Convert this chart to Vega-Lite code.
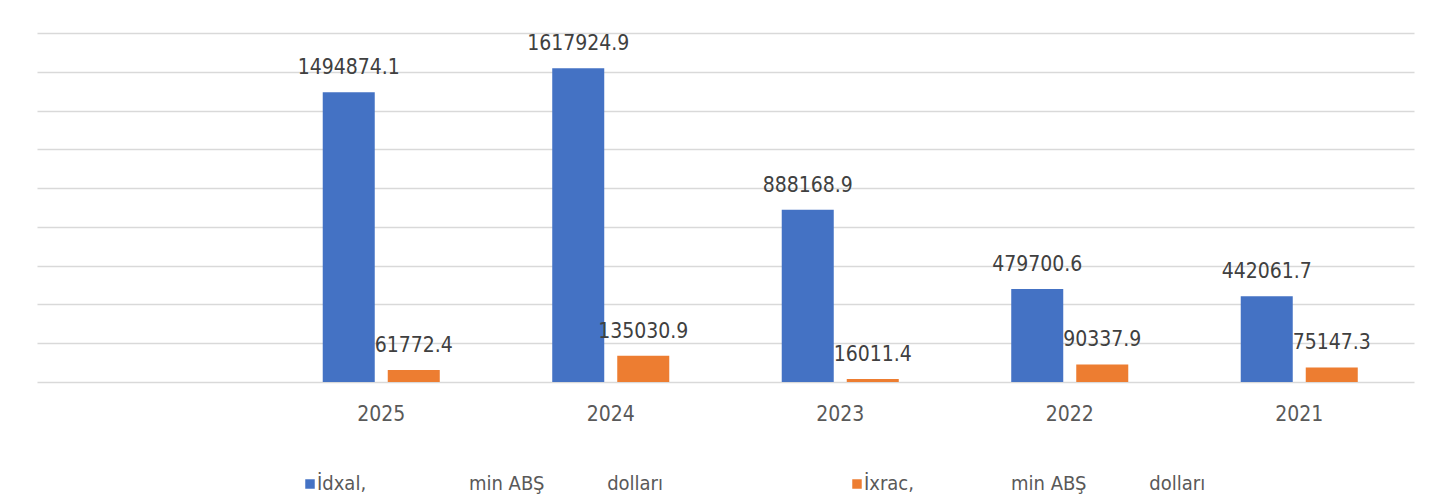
{
  "$schema": "https://vega.github.io/schema/vega-lite/v6.json",
  "width": 1377,
  "height": 349,
  "autosize": "none",
  "padding": {"left": 37, "top": 33, "right": 40, "bottom": 122},
  "background": "white",
  "config": {"view": {"stroke": null}, "font": "DejaVu Sans Condensed, sans-serif"},
  "data": {
    "values": [
      {"year": "2025", "series": "İdxal, min ABŞ dolları", "value": 1494874.1},
      {"year": "2025", "series": "İxrac, min ABŞ dolları", "value": 61772.4},
      {"year": "2024", "series": "İdxal, min ABŞ dolları", "value": 1617924.9},
      {"year": "2024", "series": "İxrac, min ABŞ dolları", "value": 135030.9},
      {"year": "2023", "series": "İdxal, min ABŞ dolları", "value": 888168.9},
      {"year": "2023", "series": "İxrac, min ABŞ dolları", "value": 16011.4},
      {"year": "2022", "series": "İdxal, min ABŞ dolları", "value": 479700.6},
      {"year": "2022", "series": "İxrac, min ABŞ dolları", "value": 90337.9},
      {"year": "2021", "series": "İdxal, min ABŞ dolları", "value": 442061.7},
      {"year": "2021", "series": "İxrac, min ABŞ dolları", "value": 75147.3}
    ]
  },
  "encoding": {
    "x": {
      "field": "year", "type": "nominal", "sort": null,
      "scale": {"domain": ["", "2025", "2024", "2023", "2022", "2021"], "paddingInner": 0, "paddingOuter": 0},
      "axis": {"title": null, "ticks": false, "domain": false, "labelAngle": 0, "labelFontSize": 21, "labelColor": "#595959", "labelPadding": 21}
    },
    "xOffset": {
      "field": "series", "type": "nominal",
      "scale": {"domain": ["İdxal, min ABŞ dolları", "İxrac, min ABŞ dolları"], "paddingInner": 0.2, "paddingOuter": 0.865}
    },
    "y": {
      "field": "value", "type": "quantitative",
      "scale": {"domain": [0, 1800000], "nice": false},
      "axis": {"title": null, "labels": false, "ticks": false, "domain": false, "grid": true, "gridColor": "#D9D9D9", "gridWidth": 1.5,
        "values": [0, 200000, 400000, 600000, 800000, 1000000, 1200000, 1400000, 1600000, 1800000]}
    }
  },
  "layer": [
    {
      "mark": {"type": "bar"},
      "encoding": {
        "color": {
          "field": "series", "type": "nominal",
          "scale": {"domain": ["İdxal, min ABŞ dolları", "İxrac, min ABŞ dolları"], "range": ["#4472C4", "#ED7D31"]},
          "legend": {
            "title": null, "orient": "none", "legendX": 263, "legendY": 441, "direction": "horizontal", "columns": 2,
            "padding": 0, "symbolType": "square", "symbolSize": 90, "symbolStrokeWidth": 0, "symbolOpacity": 1,
            "labelFontSize": 20, "labelColor": "#595959", "labelOffset": -3, "columnPadding": 183, "labelLimit": 700,
            "labelExpr": "datum.label == 'İdxal, min ABŞ dolları' ? 'İdxal,\u00a0\u00a0\u00a0\u00a0\u00a0\u00a0\u00a0\u00a0\u00a0\u00a0\u00a0\u00a0\u00a0\u00a0\u00a0\u00a0\u00a0\u00a0min ABŞ\u00a0\u00a0\u00a0\u00a0\u00a0\u00a0\u00a0\u00a0\u00a0\u00a0\u00a0dolları' : 'İxrac,\u00a0\u00a0\u00a0\u00a0\u00a0\u00a0\u00a0\u00a0\u00a0\u00a0\u00a0\u00a0\u00a0\u00a0\u00a0\u00a0\u00a0min ABŞ\u00a0\u00a0\u00a0\u00a0\u00a0\u00a0\u00a0\u00a0\u00a0\u00a0\u00a0dolları'"
          }
        }
      }
    },
    {
      "mark": {"type": "text", "baseline": "middle", "dy": -24, "fontSize": 21, "color": "#404040"},
      "encoding": {"text": {"field": "value", "type": "quantitative", "format": ".1f"}}
    }
  ]
}
